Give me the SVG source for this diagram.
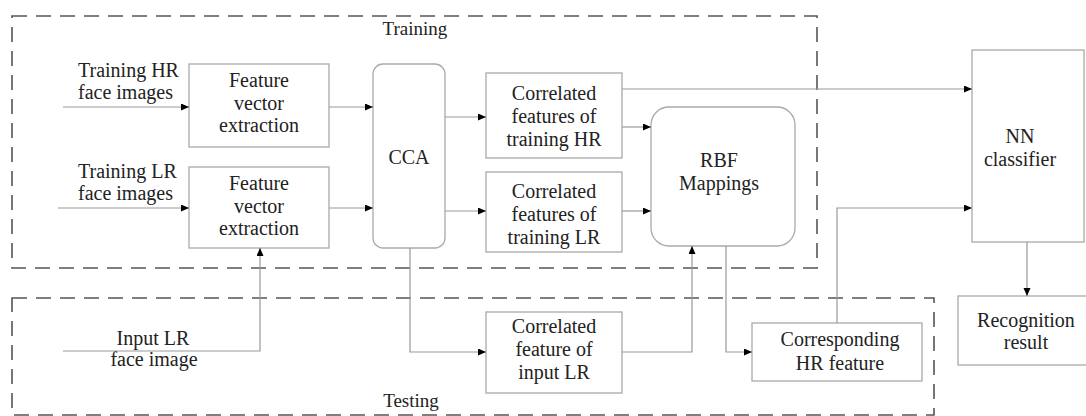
<svg xmlns="http://www.w3.org/2000/svg" width="1086" height="416" viewBox="0 0 1086 416">
<style>
  .frame{fill:none;stroke:#555;stroke-width:1.6;stroke-dasharray:15 9}
  .box{fill:#fff;stroke:#aaa;stroke-width:1.3}
  .conn{fill:none;stroke:#999;stroke-width:1.2}
  text{font-family:'Liberation Serif','DejaVu Serif','Times New Roman',serif;fill:#222}
  .t{font-size:20px;text-anchor:middle}
  .ts{font-size:19px;text-anchor:middle}
  .l{font-size:20px;text-anchor:start}
</style>
<defs>
  <marker id="arr" markerUnits="userSpaceOnUse" markerWidth="9" markerHeight="8" refX="8" refY="3.5" orient="auto">
    <path d="M0,0 L8,3.5 L0,7 z" fill="#000"/>
  </marker>
</defs>
<rect width="1086" height="416" fill="#fff"/>

<g id="training-frame">
  <rect class="frame" x="12" y="16" width="805" height="252"/>
  <text class="ts" x="415" y="35">Training</text>
</g>
<g id="testing-frame">
  <rect class="frame" x="12" y="298" width="922" height="117"/>
  <text class="ts" x="411" y="407">Testing</text>
</g>

<g id="label-training-hr">
  <text class="l" x="78" y="77">Training HR</text>
  <text class="l" x="78" y="99">face images</text>
</g>
<g id="label-training-lr">
  <text class="l" x="78" y="178">Training LR</text>
  <text class="l" x="78" y="200">face images</text>
</g>
<g id="label-input-lr">
  <text class="t" x="153" y="345">Input LR</text>
  <text class="t" x="154" y="366">face image</text>
</g>

<g id="fve-hr">
  <rect class="box" x="189" y="64" width="140" height="83"/>
  <text class="t" x="259" y="87">Feature</text>
  <text class="t" x="259" y="110">vector</text>
  <text class="t" x="259" y="132">extraction</text>
</g>
<g id="fve-lr">
  <rect class="box" x="189" y="167" width="140" height="81"/>
  <text class="t" x="259" y="190">Feature</text>
  <text class="t" x="259" y="213">vector</text>
  <text class="t" x="259" y="235">extraction</text>
</g>
<g id="cca">
  <rect class="box" x="373" y="64" width="72" height="184" rx="10"/>
  <text class="t" x="409" y="164">CCA</text>
</g>
<g id="cf-hr">
  <rect class="box" x="486" y="73" width="136" height="85"/>
  <text class="t" x="554" y="100">Correlated</text>
  <text class="t" x="554" y="123">features of</text>
  <text class="t" x="554" y="146">training HR</text>
</g>
<g id="cf-lr">
  <rect class="box" x="486" y="172" width="136" height="80"/>
  <text class="t" x="554" y="198">Correlated</text>
  <text class="t" x="554" y="221">features of</text>
  <text class="t" x="554" y="244">training LR</text>
</g>
<g id="rbf">
  <rect class="box" x="651" y="107" width="144" height="139" rx="18"/>
  <text class="t" x="719" y="167">RBF</text>
  <text class="t" x="719" y="190">Mappings</text>
</g>
<g id="nn">
  <rect class="box" x="972" y="50" width="112" height="192"/>
  <text class="t" x="1020" y="143">NN</text>
  <text class="t" x="1020" y="166">classifier</text>
</g>
<g id="cf-input">
  <rect class="box" x="486" y="312" width="136" height="81"/>
  <text class="t" x="554" y="333">Correlated</text>
  <text class="t" x="554" y="356">feature of</text>
  <text class="t" x="554" y="379">input LR</text>
</g>
<g id="corr-hr">
  <rect class="box" x="752" y="323" width="170" height="58"/>
  <text class="t" x="840" y="346">Corresponding</text>
  <text class="t" x="840" y="370">HR feature</text>
</g>
<g id="recognition">
  <rect class="box" x="958" y="296" width="140" height="69"/>
  <text class="t" x="1026" y="327">Recognition</text>
  <text class="t" x="1026" y="349">result</text>
</g>

<g id="connectors">
  <path class="conn" d="M63,107 H189" marker-end="url(#arr)"/>
  <path class="conn" d="M58,208 H189" marker-end="url(#arr)"/>
  <path class="conn" d="M329,107 H373" marker-end="url(#arr)"/>
  <path class="conn" d="M329,208 H373" marker-end="url(#arr)"/>
  <path class="conn" d="M445,117 H486" marker-end="url(#arr)"/>
  <path class="conn" d="M445,211 H486" marker-end="url(#arr)"/>
  <path class="conn" d="M622,127 H651" marker-end="url(#arr)"/>
  <path class="conn" d="M622,211 H651" marker-end="url(#arr)"/>
  <path class="conn" d="M622,89 H972" marker-end="url(#arr)"/>
  <path class="conn" d="M410,248 V352 H486" marker-end="url(#arr)"/>
  <path class="conn" d="M63,351 H260 V248" marker-end="url(#arr)"/>
  <path class="conn" d="M622,352 H692 V246" marker-end="url(#arr)"/>
  <path class="conn" d="M726,246 V352 H752" marker-end="url(#arr)"/>
  <path class="conn" d="M837,323 V208 H972" marker-end="url(#arr)"/>
  <path class="conn" d="M1027,242 V296" marker-end="url(#arr)"/>
</g>
</svg>
